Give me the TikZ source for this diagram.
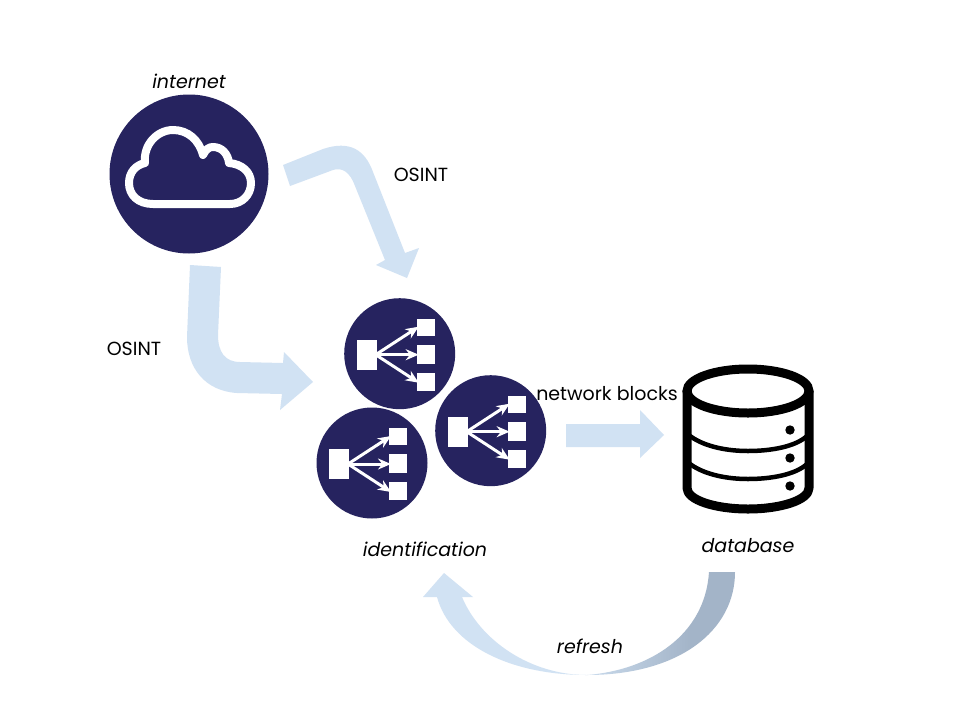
\documentclass[tikz,border=0pt]{standalone}
\usepackage{fontspec}
\setmainfont{Poppins}
\usetikzlibrary{arrows.meta}
\definecolor{navy}{HTML}{26235F}
\definecolor{paleblue}{HTML}{D1E2F3}
\definecolor{greyblue}{HTML}{A3B4C8}
\pgfdeclarehorizontalshading{refreshfade}{100bp}{
  color(0bp)=(paleblue); color(50bp)=(paleblue); color(54bp)=(paleblue!70!greyblue);
  color(68bp)=(greyblue); color(100bp)=(greyblue)}
\tikzset{
  disc/.style={circle,fill=navy,draw=none,inner sep=0pt,minimum size=111pt},
  bigdisc/.style={circle,fill=navy,draw=none,inner sep=0pt,minimum size=159pt},
  blockarrow/.style={fill=paleblue,draw=none},
  plain/.style={font=\fontsize{19}{22}\selectfont,text=black,inner sep=0pt},
  slanted/.style={font=\fontsize{19}{22}\itshape\selectfont,text=black,inner sep=0pt},
  fanicon/.pic={
    \fill[white] (-43,-14) rectangle (-23,16);
    \fill[white] (17,-35) rectangle (35,-18);
    \fill[white] (17,-9) rectangle (35,10);
    \fill[white] (17,19) rectangle (35,37);
    \begin{scope}[white,line width=3pt,-{Stealth[length=13pt,width=11pt]}]
      \draw (-24,1) -- (19,-27);
      \draw (-24,1) -- (19,1);
      \draw (-24,1) -- (19,29);
    \end{scope}
  }
}
\begin{document}
\begin{tikzpicture}[x=1pt,y=-1pt]
\useasboundingbox (0,0) rectangle (960,720);
\fill[white] (0,0) rectangle (960,720);

% internet
\node[bigdisc] (internet) at (189,174) {};
\draw[white,line width=8pt,line join=round]
  (153,204) .. controls (138,204) and (129,195) .. (129,183)
  .. controls (129,172) and (136,165) .. (145,163)
  .. controls (143,145) and (157,130) .. (173,130)
  .. controls (188,130) and (199,140) .. (203,155)
  .. controls (206,149) and (209,147) .. (213,147)
  .. controls (222,147) and (228,154) .. (229,163)
  .. controls (242,164) and (251,172) .. (251,183)
  .. controls (251,195) and (242,204) .. (230,204) -- cycle;
\node[slanted] (internetlabel) at (189,81) {internet};

% OSINT arrow, upper right
\fill[blockarrow]
  (283,165) -- (323,149) .. controls (350,140) and (365,150) .. (373,172)
  -- (405,253) -- (419,248) -- (407,278) -- (376,265) -- (385,260)
  -- (355,186) .. controls (350,172) and (342,167) .. (333,170) -- (290,186) -- cycle;
\node[plain] (osintright) at (421,175) {OSINT};

% OSINT arrow, lower left
\fill[blockarrow]
  (190,265) -- (221,267) -- (218,335) .. controls (218,352) and (225,362) .. (240,362)
  -- (283,363) -- (284,352) -- (313,382) -- (280,410) -- (282,394) -- (237,393)
  .. controls (205,391) and (187,368) .. (187,337) -- cycle;
\node[plain] (osintleft) at (134,349) {OSINT};

% identification
\node[disc] (idtop) at (399.7,353.7) {};
\node[disc] (idright) at (490.7,430.7) {};
\node[disc] (idleft) at (372,463) {};
\pic at (idtop) {fanicon};
\pic at (idright) {fanicon};
\pic at (idleft) {fanicon};
\node[slanted] (idlabel) at (425,549) {identification};

% network blocks arrow
\fill[blockarrow] (566,424) -- (640,424) -- (640,410) -- (664,435) -- (640,458) -- (640,447) -- (566,447) -- cycle;
\node[plain] (netlabel) at (607,394) {network blocks};

% database
\fill[white] (687,391) -- (687,488) .. controls (687,500) and (715,509) .. (748,509)
  .. controls (781,509) and (809,500) .. (809,488) -- (809,391) -- cycle;
\draw[black,line width=9pt,line join=round]
  (687,391) -- (687,488) .. controls (687,500) and (715,509) .. (748,509)
  .. controls (781,509) and (809,500) .. (809,488) -- (809,391);
\draw[black,line width=9pt] (748,391) ellipse [x radius=61,y radius=22];
\draw[black,line width=4.5pt] (690,436) .. controls (705,447) and (728,451) .. (748,451)
  .. controls (770,451) and (795,447) .. (807,436);
\draw[black,line width=4.5pt] (690,464) .. controls (705,475) and (728,479) .. (748,479)
  .. controls (770,479) and (795,475) .. (807,464);
\fill[black] (790,430) circle (4.7) (790,458) circle (4.7) (790,486) circle (4.7);
\node[slanted] (dblabel) at (748,546) {database};

% refresh arrow
\path[shading=refreshfade,shading angle=0]
  (735,572) .. controls (735,630) and (680,675) .. (587,675)
  .. controls (510,675) and (450,645) .. (437,597)
  -- (423,597) -- (444,573) -- (473,597) -- (462,597)
  .. controls (480,640) and (530,675) .. (587,675)
  .. controls (650,670) and (705,635) .. (709,572) -- cycle;
\node[slanted] (refreshlabel) at (590,646) {refresh};
\end{tikzpicture}
\end{document}
